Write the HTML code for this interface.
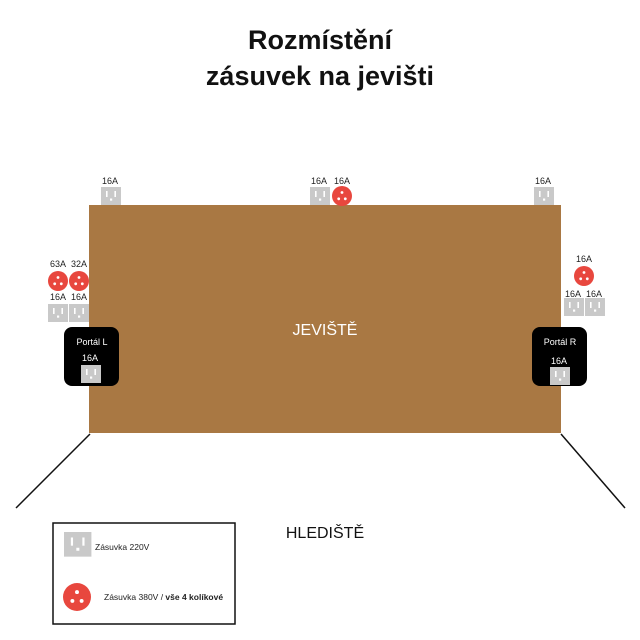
<!DOCTYPE html>
<html><head><meta charset="utf-8"><style>
html,body{margin:0;padding:0;background:#fff}
svg{display:block}
text{font-family:"Liberation Sans",sans-serif}
</style></head><body>
<svg width="640" height="640" viewBox="0 0 640 640" xmlns="http://www.w3.org/2000/svg">
<defs>
<g id="g">
<rect x="0" y="0" width="20" height="18" fill="#c9c9c9"/>
<rect x="5" y="4" width="1.6" height="6" fill="#fff"/>
<rect x="13.4" y="4" width="1.6" height="6" fill="#fff"/>
<rect x="9" y="11.5" width="2.2" height="2.2" fill="#fff"/>
</g>
<g id="r">
<circle cx="0" cy="0" r="10" fill="#e8473e"/>
<circle cx="0" cy="-3.5" r="1.4" fill="#fff"/>
<circle cx="-3.3" cy="2.8" r="1.4" fill="#fff"/>
<circle cx="3.3" cy="2.8" r="1.4" fill="#fff"/>
</g>
</defs>

<text x="320" y="49" font-size="27" font-weight="bold" text-anchor="middle" fill="#111">Rozmístění</text>
<text x="320" y="85" font-size="27" font-weight="bold" text-anchor="middle" fill="#111">zásuvek na jevišti</text>

<rect x="89" y="205" width="472" height="228" fill="#a97843"/>
<text x="325" y="335" font-size="16" text-anchor="middle" fill="#fff">JEVIŠTĚ</text>

<line x1="90" y1="434" x2="16" y2="508" stroke="#111" stroke-width="1.5"/>
<line x1="561" y1="434" x2="625" y2="508" stroke="#111" stroke-width="1.5"/>

<g font-size="9" fill="#222" text-anchor="middle">
<text x="110" y="184">16A</text>
<text x="319" y="184">16A</text>
<text x="342" y="184">16A</text>
<text x="543" y="184">16A</text>
<text x="58" y="267">63A</text>
<text x="79" y="267">32A</text>
<text x="58" y="300">16A</text>
<text x="79" y="300">16A</text>
<text x="584" y="262">16A</text>
<text x="573" y="297">16A</text>
<text x="594" y="297">16A</text>
</g>
<use href="#g" x="101" y="187"/>
<use href="#g" x="310" y="187"/>
<use href="#r" x="342" y="196"/>
<use href="#g" x="534" y="187"/>

<use href="#r" x="58" y="281"/>
<use href="#r" x="79" y="281"/>
<use href="#g" x="48" y="304"/>
<use href="#g" x="69" y="304"/>

<use href="#r" x="584" y="276"/>
<use href="#g" x="564" y="298"/>
<use href="#g" x="585" y="298"/>

<rect x="64" y="327" width="55" height="59" rx="8" fill="#000"/>
<text x="92" y="345" font-size="9" fill="#fff" text-anchor="middle">Portál L</text>
<text x="90" y="361" font-size="9" fill="#fff" text-anchor="middle">16A</text>
<use href="#g" x="81" y="365"/>

<rect x="532" y="327" width="55" height="59" rx="8" fill="#000"/>
<text x="560" y="345" font-size="9" fill="#fff" text-anchor="middle">Portál R</text>
<text x="559" y="364" font-size="9" fill="#fff" text-anchor="middle">16A</text>
<use href="#g" x="550" y="367"/>

<text x="325" y="538" font-size="16" text-anchor="middle" fill="#111">HLEDIŠTĚ</text>

<rect x="53" y="523" width="182" height="101" fill="none" stroke="#111" stroke-width="1.5"/>
<g transform="translate(64,532) scale(1.37)"><use href="#g"/></g>
<text x="95" y="550" font-size="8.5" fill="#222">Zásuvka 220V</text>
<g transform="translate(77,597) scale(1.4)"><use href="#r"/></g>
<text x="104" y="600" font-size="8.5" fill="#222">Zásuvka 380V / <tspan font-weight="bold">vše  4 kolíkové</tspan></text>
</svg>
</body></html>
